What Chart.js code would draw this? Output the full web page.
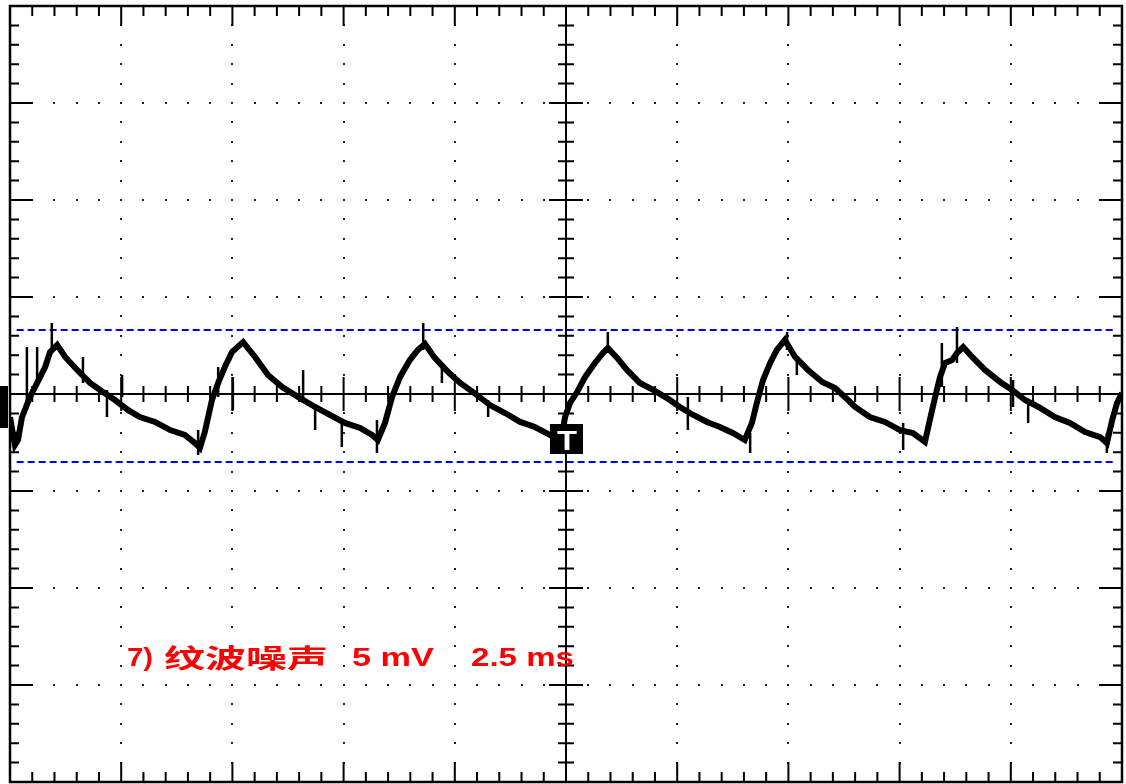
<!DOCTYPE html>
<html>
<head>
<meta charset="utf-8">
<script src="https://cdn.jsdelivr.net/npm/chart.js@4.4.0/dist/chart.umd.min.js"></script>
<style>
  html, body { margin: 0; padding: 0; background: #fff; }
  canvas { display: block; }
</style>
</head>
<body>
<canvas id="osciloscopio" width="1126" height="784"></canvas>
<script>
// traza de rizado: tiempo en ms, tension en mV
const tiempos = [0.00, 0.11, 0.18, 0.27, 0.45, 0.61, 0.79, 0.90, 1.06, 1.24, 1.51, 1.80, 2.09, 2.36, 2.65, 2.92, 3.26, 3.60, 3.93, 4.16, 4.27,
  4.38, 4.54, 4.68, 4.83, 4.99, 5.24, 5.51, 5.80, 6.12, 6.52, 6.86, 7.19, 7.53, 7.87, 8.14, 8.27,
  8.43, 8.59, 8.77, 8.99, 9.17, 9.33, 9.55, 9.85, 10.12, 10.41, 10.79, 11.13, 11.47, 11.80, 12.14, 12.37,
  12.48, 12.59, 12.75, 12.93, 13.15, 13.33, 13.44, 13.65, 13.87, 14.16, 14.46, 14.77, 15.06, 15.36, 15.67, 15.96, 16.25, 16.52,
  16.68, 16.79, 16.93, 17.09, 17.24, 17.42, 17.65, 17.94, 18.26, 18.55, 18.84, 19.00, 19.33, 19.67, 20.01, 20.30, 20.57,
  20.68, 20.80, 20.91, 21.02, 21.18, 21.29, 21.43, 21.63, 21.92, 22.26, 22.53, 22.82, 23.16, 23.49, 23.83, 24.17, 24.51, 24.66,
  24.78, 24.89, 25.00];
const voltajes = [-1.20, -2.63, -2.37, -1.19, -0.15, 0.57, 1.39, 2.16, 2.53, 1.91, 1.24, 0.57, 0.10, -0.31, -0.82, -1.19, -1.44, -1.86, -2.11, -2.53, -2.78,
  -1.96, -0.31, 0.57, 1.39, 2.16, 2.68, 1.91, 0.98, 0.36, -0.21, -0.67, -1.08, -1.49, -1.75, -2.11, -2.37,
  -1.49, -0.15, 0.88, 1.75, 2.27, 2.58, 1.86, 1.13, 0.57, 0.10, -0.57, -0.98, -1.44, -1.70, -2.11, -2.53,
  -1.19, -0.46, 0.10, 0.88, 1.60, 2.11, 2.37, 1.86, 1.24, 0.57, 0.21, -0.21, -0.67, -1.08, -1.44, -1.70, -2.01, -2.37,
  -1.49, -0.46, 0.72, 1.60, 2.27, 2.78, 1.91, 1.24, 0.62, 0.31, -0.31, -0.67, -1.19, -1.44, -1.86, -2.01, -2.47,
  -1.34, -0.15, 0.88, 1.60, 1.75, 2.11, 2.42, 1.91, 1.24, 0.62, 0.21, -0.31, -0.72, -1.19, -1.49, -1.96, -2.22, -2.53,
  -1.34, -0.46, 0.05];

// picos de ruido
const picosT = [0.38, 0.61, 0.94, 1.64, 2.18, 2.52, 4.23, 4.68, 5.01, 6.59, 6.86, 7.46, 8.25, 9.29, 9.71, 10.75,
  13.44, 15.24, 16.64, 17.47, 17.69, 20.08, 20.95, 21.29, 22.55, 22.89, 24.66];
const picosAlto = [2.42, 2.42, 3.66, 1.91, 0.21, 0.98, -1.86, 1.39, 0.88, 1.24, -0.67, -1.49, -1.34, 3.66, 1.60, -0.31,
  3.20, -0.15, -2.01, 3.20, 1.91, -1.49, 2.63, 3.45, 0.72, -0.46, -2.01];
const picosBajo = [-0.46, 0.36, 2.27, 0.57, -1.19, -0.15, -3.14, -0.15, -0.82, -0.46, -1.86, -2.73, -3.04, 2.27, 0.57, -1.19,
  2.11, -1.86, -3.04, 2.27, 0.98, -2.89, 0.36, 1.60, -0.67, -1.49, -3.04];

// cursores horizontales (mV)
const cursores = [3.3, -3.5];

// pantalla: 10 x 8 divisiones, 2.5 ms/div, 5 mV/div
const rangoT = [0, 25];
const rangoV = [-20, 20];
const msPorDiv = 2.5;
const mvPorDiv = 5;
const subdiv = 5;

const textoCanal = '7)';
const textoTitulo = '纹波噪声';
const textoVolts = '5 mV';
const textoTiempo = '2.5 ms';

const puntosTraza = tiempos.map((t, i) => ({ x: t, y: voltajes[i] }));
const puntosPicos = [];
picosT.forEach((t, i) => {
  puntosPicos.push({ x: t, y: picosBajo[i] }, { x: t, y: picosAlto[i] }, { x: t, y: null });
});

const reticula = {
  id: 'reticula',
  beforeDatasetsDraw(chart) {
    const { ctx, chartArea: a, scales: { x, y } } = chart;
    const xMaj = [], yMaj = [];
    for (let t = rangoT[0]; t <= rangoT[1] + 1e-9; t += msPorDiv) xMaj.push(x.getPixelForValue(t));
    for (let v = rangoV[1]; v >= rangoV[0] - 1e-9; v -= mvPorDiv) yMaj.push(y.getPixelForValue(v));
    const dx = (xMaj[1] - xMaj[0]) / subdiv;
    const dy = (yMaj[1] - yMaj[0]) / subdiv;
    const cx = x.getPixelForValue((rangoT[0] + rangoT[1]) / 2);
    const cy = y.getPixelForValue(0);
    ctx.save();
    ctx.fillStyle = '#222';
    // puntos de la reticula
    for (let j = 1; j < yMaj.length - 1; j++) {
      if (Math.abs(yMaj[j] - cy) < 1) continue;
      for (let k = 1; k < (xMaj.length - 1) * subdiv; k++) {
        ctx.fillRect(Math.round(a.left + k * dx) - 1, Math.round(yMaj[j]) - 1, 2, 2);
      }
    }
    for (let i = 1; i < xMaj.length - 1; i++) {
      if (Math.abs(xMaj[i] - cx) < 1) continue;
      for (let k = 1; k < (yMaj.length - 1) * subdiv; k++) {
        ctx.fillRect(Math.round(xMaj[i]) - 1, Math.round(a.top + k * dy) - 1, 2, 2);
      }
    }
    ctx.strokeStyle = '#000';
    ctx.lineWidth = 2;
    ctx.beginPath();
    // ejes centrales
    ctx.moveTo(a.left, cy); ctx.lineTo(a.right, cy);
    ctx.moveTo(cx, a.top); ctx.lineTo(cx, a.bottom);
    for (let k = 1; k < (xMaj.length - 1) * subdiv; k++) {
      const px = a.left + k * dx;
      const l = k % subdiv === 0 ? 17 : 8;
      ctx.moveTo(px, cy - l); ctx.lineTo(px, cy + l);
      // marcas del borde superior e inferior
      const lb = k % subdiv === 0 ? 20 : 10;
      ctx.moveTo(px, a.top); ctx.lineTo(px, a.top + lb);
      ctx.moveTo(px, a.bottom); ctx.lineTo(px, a.bottom - lb);
    }
    for (let k = 1; k < (yMaj.length - 1) * subdiv; k++) {
      const py = a.top + k * dy;
      const l = k % subdiv === 0 ? 17 : 8;
      ctx.moveTo(cx - l, py); ctx.lineTo(cx + l, py);
      const lb = k % subdiv === 0 ? 23 : 9;
      ctx.moveTo(a.left, py); ctx.lineTo(a.left + lb, py);
      ctx.moveTo(a.right, py); ctx.lineTo(a.right - lb, py);
    }
    ctx.stroke();
    ctx.lineWidth = 2.5;
    ctx.strokeRect(a.left, a.top, a.right - a.left, a.bottom - a.top);
    ctx.restore();
  }
};

function textoAjustado(ctx, s, x0, x1, base) {
  const w = ctx.measureText(s).width;
  ctx.save();
  ctx.translate(x0, base);
  ctx.scale((x1 - x0) / w, 1);
  ctx.fillText(s, 0, 0);
  ctx.restore();
}

const marcas = {
  id: 'marcas',
  afterDatasetsDraw(chart) {
    const { ctx, scales: { x, y } } = chart;
    const cx = x.getPixelForValue((rangoT[0] + rangoT[1]) / 2);
    const cy = y.getPixelForValue(0);
    ctx.save();
    ctx.fillStyle = '#000';
    // marcador de canal
    ctx.fillRect(0, cy - 8, 8, 42);
    // marcador de disparo
    ctx.fillRect(cx - 16, cy + 30, 33, 30);
    ctx.fillStyle = '#fff';
    ctx.font = 'bold 28px "Liberation Sans", Arial, sans-serif';
    ctx.textBaseline = 'alphabetic';
    textoAjustado(ctx, 'T', cx - 9, cx + 11, cy + 56);
    // leyenda
    ctx.fillStyle = '#ff0000';
    ctx.font = 'bold 25px "Liberation Sans", Arial, sans-serif';
    textoAjustado(ctx, textoCanal, 127, 153, 666);
    textoAjustado(ctx, textoVolts, 352, 434, 666);
    textoAjustado(ctx, textoTiempo, 471, 574, 666);
    ctx.font = 'bold 26px "Noto Sans CJK SC", sans-serif';
    textoAjustado(ctx, textoTitulo, 164, 328, 668);
    ctx.restore();
  }
};

const ctx = document.getElementById('osciloscopio').getContext('2d');
new Chart(ctx, {
  type: 'line',
  data: {
    datasets: [
      {
        data: puntosTraza,
        borderColor: '#000',
        borderWidth: 6,
        pointRadius: 0,
        tension: 0,
      },
      {
        data: puntosPicos,
        borderColor: '#000',
        borderWidth: 2.5,
        pointRadius: 0,
        spanGaps: false,
      },
      ...cursores.map((v) => ({
        data: [{ x: 0.15, y: v }, { x: 24.85, y: v }],
        borderColor: '#0000ee',
        borderWidth: 2,
        borderDash: [7, 4],
        pointRadius: 0,
      })),
    ],
  },
  options: {
    responsive: false,
    animation: false,
    layout: { padding: { left: 10, right: 4, top: 6, bottom: 2 } },
    scales: {
      x: { type: 'linear', min: rangoT[0], max: rangoT[1], display: false },
      y: { min: rangoV[0], max: rangoV[1], display: false },
    },
    plugins: {
      legend: { display: false },
      tooltip: { enabled: false },
    },
  },
  plugins: [reticula, marcas],
});
</script>
</body>
</html>
